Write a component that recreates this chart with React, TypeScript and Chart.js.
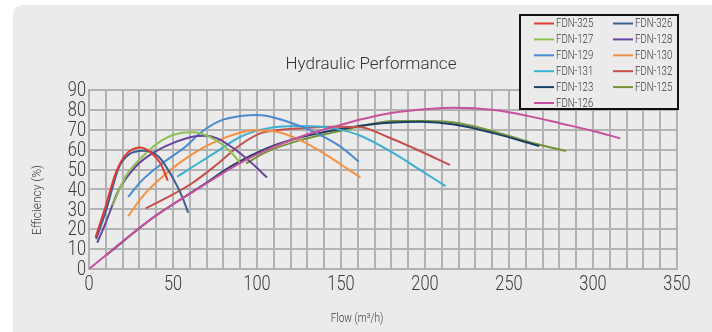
import React, { useEffect, useRef } from "react";
import { Chart, registerables } from "chart.js";

Chart.register(...registerables);

type P = [number, number];

// Flow (m3/h), Efficiency (%)
const FDN325: P[] = [[3.9, 15.9], [9.8, 31.3], [15.8, 48], [21.7, 57.3], [30.6, 61.1], [37.6, 58], [42.6, 53], [46.9, 44.4]];
const FDN326: P[] = [[4.2, 15], [10, 29], [17.7, 51], [23.6, 57.5], [32.5, 59.5], [41.5, 56.4], [49.5, 46.4], [55.5, 36.3], [59, 28.3]];
const FDN127: P[] = [[14.1, 32], [21.7, 46.4], [31.7, 56.4], [43.6, 64.8], [55.5, 68.5], [61, 68.7], [66.4, 68.2], [78.3, 63.2], [86, 57.3], [90.2, 53.1]];
const FDN128: P[] = [[4.9, 13.2], [9.8, 23], [17.7, 39.7], [27.7, 51.4], [37.6, 58.1], [49.5, 63.2], [63.4, 66.8], [70, 67], [76.3, 65.7], [86, 60.7], [96, 53.9], [106, 46]];
const FDN129: P[] = [[23.3, 36.3], [31.7, 44.7], [43.6, 53.1], [57.4, 61.5], [66.4, 68.5], [78.3, 74.6], [90.2, 76.9], [100, 77.4], [109.9, 76.2], [123.8, 72.4], [135.7, 68.2], [149.7, 61.5], [160.6, 53.9]];
const FDN130: P[] = [[23.3, 26.6], [31.7, 36.3], [41.5, 44.7], [53.5, 53.1], [65.4, 59.8], [75.3, 64], [86, 67.5], [98, 69.8], [111.7, 69], [125.6, 64.8], [141.5, 57.3], [153.4, 50.6], [161.6, 46]];
const FDN131: P[] = [[52.5, 46.4], [63.4, 52.3], [75.3, 58.6], [90.2, 66.5], [106, 70.7], [125.9, 71.9], [145.7, 70.7], [161.6, 67], [181.5, 58.1], [197.3, 49.7], [212.2, 41.7]];
const FDN132: P[] = [[33.7, 30.5], [47.2, 36.3], [61.1, 43], [75.3, 52], [90.2, 62.5], [102, 68.2], [109.9, 69.5], [125.9, 70.7], [145.7, 71.5], [161.6, 71.3], [177.5, 66.5], [193.4, 60.7], [214.8, 52.3]];
const FDN123: P[] = [[10.4, 7], [37.6, 25.5], [66.4, 41.4], [86, 52.3], [106, 60.7], [125.9, 66.2], [145.7, 69.8], [167.6, 72.7], [181.5, 73.7], [197.3, 74], [217.5, 72.7], [241.3, 68.2], [268, 61.8]];
const FDN125: P[] = [[93.5, 53.1], [106, 59], [125.9, 64.8], [145.7, 68.7], [161.6, 71.8], [181.5, 74.4], [201.3, 74.4], [221, 73.2], [244.9, 68.2], [264.7, 63.2], [284, 59.3]];
const FDN126: P[] = [[0, 0], [37.6, 25.5], [66.4, 41.2], [86, 51.4], [106, 60], [125.9, 66.5], [145.7, 71.5], [161.6, 75.2], [181.5, 78.7], [201.3, 80.4], [217.5, 81.1], [241.3, 79.9], [261, 77], [280.8, 73.2], [300.7, 69.3], [316.2, 65.7]];

const SERIES_NAMES = ["FDN-325", "FDN-326", "FDN-127", "FDN-128", "FDN-129", "FDN-130", "FDN-131", "FDN-132", "FDN-123", "FDN-125", "FDN-126"];
const SERIES_DATA = [FDN325, FDN326, FDN127, FDN128, FDN129, FDN130, FDN131, FDN132, FDN123, FDN125, FDN126];
const SERIES_COLORS = ["#e03a32", "#3b5f8f", "#8cc152", "#6a449c", "#4a8bd0", "#f39243", "#3bb0cf", "#c4504c", "#1f3e66", "#76943a", "#c8509e"];

const X_LABEL_STEP = 50;
const TITLE = "Hydraulic Performance";
const X_TITLE = "Flow (m³/h)";
const Y_TITLE = "Efficiency (%)";

function narrowText(ctx: CanvasRenderingContext2D, text: string, x: number, y: number, sx: number) {
  ctx.save();
  ctx.translate(x, y);
  ctx.scale(sx, 1);
  ctx.fillText(text, 0, 0);
  ctx.restore();
}

const overlayPlugin = {
  id: "overlay",
  afterDraw(chart: any) {
    const ctx = chart.ctx as CanvasRenderingContext2D;
    const xs = chart.scales.x;
    const ys = chart.scales.y;
    ctx.save();
    // tick labels (from the library's scales)
    ctx.fillStyle = "#3a3a3a";
    ctx.font = "300 21px Roboto, sans-serif";
    ctx.textBaseline = "middle";
    ctx.textAlign = "center";
    xs.ticks.forEach((t: any) => {
      if (t.value % X_LABEL_STEP !== 0) return;
      narrowText(ctx, String(t.value), xs.getPixelForValue(t.value), 285, 0.78);
    });
    ctx.textAlign = "right";
    ys.ticks.forEach((t: any) => {
      narrowText(ctx, String(t.value), ys.left + ys.width - 3, ys.getPixelForValue(t.value) + 1, 0.78);
    });
    // title
    ctx.fillStyle = "#333";
    ctx.font = "300 17px Roboto, sans-serif";
    ctx.textAlign = "center";
    ctx.fillText(TITLE, 371, 65);
    // x title
    ctx.font = "300 13px Roboto, sans-serif";
    ctx.fillStyle = "#3a3a3a";
    narrowText(ctx, X_TITLE, 357, 319, 0.78);
    // y title
    ctx.save();
    ctx.translate(38, 200);
    ctx.rotate(-Math.PI / 2);
    ctx.font = "300 12px Roboto, sans-serif";
    ctx.fillText(Y_TITLE, 0, 0);
    ctx.restore();
    // legend
    const bx = 520, by = 15, bw = 158, bh = 94;
    ctx.fillStyle = "#ebebeb";
    ctx.fillRect(bx, by, bw, bh);
    ctx.strokeStyle = "#111";
    ctx.lineWidth = 2;
    ctx.strokeRect(bx, by, bw, bh);
    ctx.font = "300 12px Roboto, sans-serif";
    ctx.textAlign = "left";
    SERIES_NAMES.forEach((name, i) => {
      const col = i % 2;
      const row = Math.floor(i / 2);
      const lx = col === 0 ? 534 : 613;
      const y = 23.5 + row * 15.9;
      ctx.strokeStyle = SERIES_COLORS[i];
      ctx.lineWidth = 2;
      ctx.beginPath();
      ctx.moveTo(lx, y);
      ctx.lineTo(lx + 20, y);
      ctx.stroke();
      ctx.fillStyle = "#3a3a3a";
      narrowText(ctx, name, lx + 22, y + 0.5, 0.8);
    });
    ctx.restore();
  },
};

export default function App() {
  const ref = useRef<HTMLCanvasElement>(null);
  useEffect(() => {
    document.body.style.margin = "0";
    const canvas = ref.current!;
    const chart = new Chart(canvas, {
      type: "line",
      data: {
        datasets: SERIES_NAMES.map((name, i) => ({
          label: name,
          data: SERIES_DATA[i].map(([x, y]) => ({ x, y })),
          borderColor: SERIES_COLORS[i],
          backgroundColor: SERIES_COLORS[i],
          borderWidth: 2,
          pointRadius: 0,
          cubicInterpolationMode: "monotone" as const,
          fill: false,
          order: name === "FDN-126" ? -1 : 0,
        })),
      },
      options: {
        animation: false,
        responsive: false,
        maintainAspectRatio: false,
        layout: { padding: { top: 90, right: 35, left: 0, bottom: 0 } },
        plugins: { legend: { display: false }, tooltip: { enabled: false }, title: { display: false } },
        scales: {
          x: {
            type: "linear",
            min: 0,
            max: 350,
            afterFit: (s: any) => { s.height = 63; },
            grid: { color: "#b2b2b2", lineWidth: 2, drawTicks: false },
            border: { color: "#b2b2b2", width: 2 },
            ticks: {
              stepSize: 10,
              autoSkip: false,
              maxRotation: 0,
              padding: 4,
              color: "rgba(0,0,0,0)",
              font: { size: 12 },
            },
          },
          y: {
            min: 0,
            max: 90,
            afterFit: (s: any) => { s.width = 89; },
            grid: { color: "#b2b2b2", lineWidth: 2, drawTicks: false },
            border: { color: "#b2b2b2", width: 2 },
            ticks: {
              stepSize: 10,
              autoSkip: false,
              padding: 3,
              color: "rgba(0,0,0,0)",
              font: { size: 12 },
            },
          },
        },
      },
      plugins: [overlayPlugin],
    });
    return () => chart.destroy();
  }, []);
  return (
    <div style={{ position: "relative", width: 712, height: 332, overflow: "hidden", background: "#fff" }}>
      <div style={{ position: "absolute", left: 13, top: 5, width: 760, height: 400, background: "#ebebeb", borderRadius: 10 }} />
      <canvas ref={ref} width={712} height={332} style={{ position: "absolute", left: 0, top: 0, width: 712, height: 332 }} />
    </div>
  );
}
